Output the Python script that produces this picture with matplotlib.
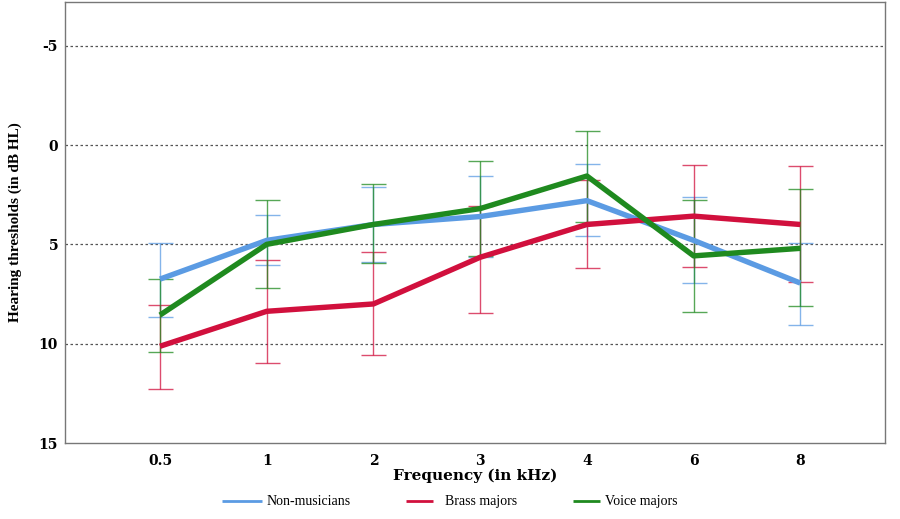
import matplotlib
matplotlib.use("Agg")
import matplotlib.pyplot as plt
import numpy as np

freqs = ["0.5", "1", "2", "3", "4", "6", "8"]

non_mean = [6.75, 4.8, 4.0, 3.6, 2.8, 4.8, 6.95]
non_low = [4.92, 3.5, 2.1, 1.55, 0.96, 2.6, 4.95]
non_high = [8.67, 6.03, 5.9, 5.65, 4.58, 6.95, 9.05]

brass_mean = [10.13, 8.37, 8.0, 5.65, 4.0, 3.58, 4.0]
brass_low = [8.06, 5.8, 5.37, 3.07, 1.75, 1.0, 1.06]
brass_high = [12.3, 10.97, 10.58, 8.46, 6.2, 6.15, 6.9]

voice_mean = [8.56, 5.0, 4.0, 3.2, 1.56, 5.58, 5.2]
voice_low = [6.75, 2.77, 1.96, 0.8, -0.7, 2.75, 2.23]
voice_high = [10.43, 7.2, 5.95, 5.6, 3.86, 8.4, 8.1]

series = [
    ("Non-musicians", non_mean, non_low, non_high, "#5B9BE3"),
    ("Brass majors", brass_mean, brass_low, brass_high, "#D1103D"),
    ("Voice majors", voice_mean, voice_low, voice_high, "#1F8A1F"),
]

plt.rcParams['font.family'] = ['Liberation Serif', 'DejaVu Serif']

fig = plt.figure(figsize=(9, 5.19), dpi=100)
ax = fig.add_axes([0.0722, 0.1464, 0.9108, 0.8498])

x = np.arange(len(freqs))
for name, m, lo, hi, c in series:
    m = np.array(m); lo = np.array(lo); hi = np.array(hi)
    ax.errorbar(x, m, yerr=[m - lo, hi - m], fmt='none', ecolor=c, alpha=0.75,
                elinewidth=1.0, capsize=9, capthick=1.0, zorder=2)
lines = []
for name, m, lo, hi, c in series:
    ln, = ax.plot(x, m, color=c, lw=3.9, label=name, zorder=3, solid_capstyle='butt')
    lines.append(ln)

tick_font = dict(family='DejaVu Serif', fontweight='bold', fontsize=10)
ax.set_ylim(15, -7.2)
ax.set_xlim(-0.89, 6.79)
ax.set_yticks([-5, 0, 5, 10, 15])
ax.set_yticklabels(["-5", "0", "5", "10", "15"], **tick_font)
ax.set_xticks(x)
ax.set_xticklabels(freqs, **tick_font)
ax.tick_params(axis='y', length=0, pad=5)
ax.tick_params(axis='x', length=0, pad=8)
for yv in [-5, 0, 5, 10]:
    ax.axhline(yv, color='#555555', lw=0.9, ls=(0, (2, 2)), zorder=1)
for s in ax.spines.values():
    s.set_color('#777777')
    s.set_linewidth(1.0)

ax.set_xlabel("Frequency (in kHz)", family='DejaVu Serif', fontweight='bold', fontsize=11, labelpad=0)
ax.set_ylabel("Hearing thresholds (in dB HL)", fontweight='bold', fontsize=11, labelpad=12)

leg_specs = [(0.2467, 2.9, 0.3), (0.451, 1.95, 0.85), (0.637, 1.95, 0.3)]
for ln, (xa, hl, tp) in zip(lines, leg_specs):
    lg = fig.legend([ln], [ln.get_label()], loc='center left', bbox_to_anchor=(xa, 0.033),
                    frameon=False, fontsize=10, handlelength=hl, handletextpad=tp,
                    borderpad=0, borderaxespad=0)
    for h in lg.get_lines():
        h.set_linewidth(2.0)

fig.savefig("out.png", dpi=100)
